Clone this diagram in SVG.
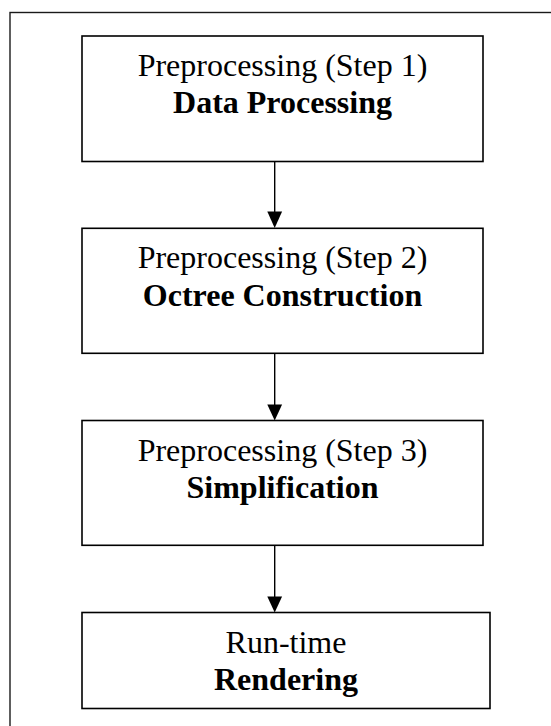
<svg xmlns="http://www.w3.org/2000/svg" width="551" height="726" viewBox="0 0 551 726">
  <style>
    .frame { fill: none; stroke: #1a1a1a; stroke-width: 1.4; }
    .box { fill: #ffffff; stroke: #000000; stroke-width: 1.6; }
    .label { font-family: "Liberation Serif", "Times New Roman", serif; font-size: 32px; fill: #000000; text-anchor: middle; }
    .bold { font-weight: bold; }
    .edge { stroke: #000000; stroke-width: 1.4; fill: none; }
    .head { fill: #000000; }
  </style>

  <rect width="551" height="726" fill="#ffffff"/>

  <!-- surrounding frame, runs past the right and bottom edges -->
  <rect class="frame" x="10" y="12.5" width="560" height="730"/>

  <g id="connectors">
    <line class="edge" x1="274.7" y1="155.5" x2="274.7" y2="213"/>
    <polygon class="head" points="267.3,211.5 282.1,211.5 274.7,228"/>

    <line class="edge" x1="274.7" y1="347.5" x2="274.7" y2="406"/>
    <polygon class="head" points="267.3,404.5 282.1,404.5 274.7,420.5"/>

    <line class="edge" x1="274.7" y1="540" x2="274.7" y2="598"/>
    <polygon class="head" points="267.3,596.5 282.1,596.5 274.7,612.5"/>
  </g>

  <g id="step1">
    <rect class="box" x="82" y="36" width="401" height="125.5"/>
    <text class="label" x="282.5" y="76">Preprocessing (Step 1)</text>
    <text class="label bold" x="282.5" y="113">Data Processing</text>
  </g>

  <g id="step2">
    <rect class="box" x="82" y="228.3" width="401" height="125"/>
    <text class="label" x="282.5" y="268.3">Preprocessing (Step 2)</text>
    <text class="label bold" x="282.5" y="305.5">Octree Construction</text>
  </g>

  <g id="step3">
    <rect class="box" x="82" y="420.5" width="401" height="124.8"/>
    <text class="label" x="282.5" y="460.5">Preprocessing (Step 3)</text>
    <text class="label bold" x="282.5" y="497.5">Simplification</text>
  </g>

  <g id="runtime">
    <rect class="box" x="82" y="612.5" width="408" height="96"/>
    <text class="label" x="286" y="652.5">Run-time</text>
    <text class="label bold" x="286" y="689.5">Rendering</text>
  </g>
</svg>
